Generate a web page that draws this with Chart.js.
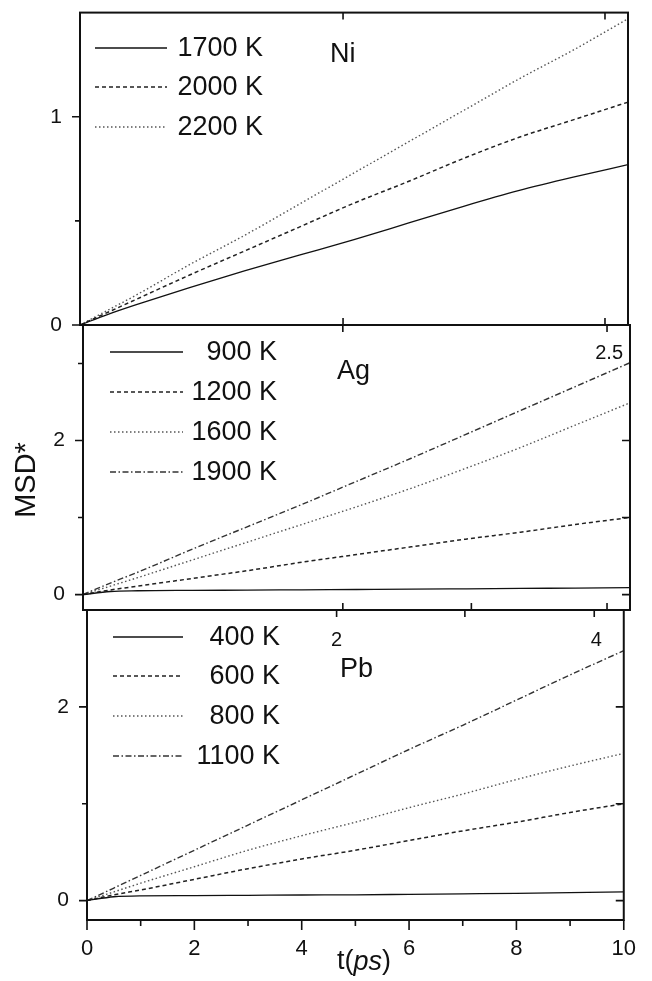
<!DOCTYPE html>
<html>
<head>
<meta charset="utf-8">
<script src="https://cdn.jsdelivr.net/npm/chart.js@4.4.0/dist/chart.umd.min.js"></script>
<style>
  html, body { margin: 0; padding: 0; background: #fff; }
  #wrap { position: relative; width: 652px; height: 981px; }
  #wrap canvas { position: absolute; left: 0; top: 0; }
</style>
</head>
<body>
<div id="wrap">
  <canvas id="niCanvas" width="652" height="981"></canvas>
  <canvas id="agCanvas" width="652" height="981"></canvas>
  <canvas id="pbCanvas" width="652" height="981"></canvas>
</div>
<script>
/********** DATA **********/
// time axis (ps), shared by every curve
const times = [0, 0.5, 1, 2, 3, 4, 5, 6, 7, 8, 9, 10];

// Ni
const ni1700 = [0, 0.05, 0.095, 0.18, 0.26, 0.335, 0.41, 0.49, 0.57, 0.645, 0.71, 0.77];
const ni2000 = [0, 0.06, 0.12, 0.24, 0.355, 0.47, 0.585, 0.69, 0.80, 0.90, 0.985, 1.07];
const ni2200 = [0, 0.07, 0.14, 0.29, 0.43, 0.58, 0.73, 0.88, 1.03, 1.18, 1.32, 1.47];

// Ag
const ag900  = [0, 0.04, 0.05, 0.055, 0.058, 0.062, 0.066, 0.07, 0.075, 0.08, 0.085, 0.09];
const ag1200 = [0, 0.06, 0.11, 0.21, 0.31, 0.42, 0.52, 0.62, 0.72, 0.81, 0.91, 1.0];
const ag1600 = [0, 0.11, 0.22, 0.45, 0.68, 0.91, 1.14, 1.38, 1.64, 1.91, 2.2, 2.49];
const ag1900 = [0, 0.15, 0.29, 0.59, 0.88, 1.17, 1.47, 1.77, 2.08, 2.39, 2.70, 3.01];

// Pb
const pb400  = [0, 0.04, 0.05, 0.052, 0.055, 0.058, 0.06, 0.065, 0.07, 0.075, 0.082, 0.09];
const pb600  = [0, 0.06, 0.11, 0.22, 0.33, 0.43, 0.52, 0.62, 0.72, 0.81, 0.91, 1.0];
const pb800  = [0, 0.09, 0.18, 0.35, 0.52, 0.67, 0.81, 0.96, 1.1, 1.25, 1.39, 1.52];
const pb1100 = [0, 0.13, 0.26, 0.52, 0.78, 1.04, 1.30, 1.56, 1.81, 2.07, 2.33, 2.58];

// tick labels
const xTickLabels = [0, 2, 4, 6, 8, 10];
const xMinorTicks = [1, 3, 5, 7, 9];

/********** STYLES **********/
const lineStyles = {
  solid:   { color: '#111', width: 1.3, dash: [] },
  dashed:  { color: '#222', width: 1.5, dash: [4, 3] },
  dotted:  { color: '#555', width: 1.4, dash: [1.5, 2.5] },
  dashdot: { color: '#333', width: 1.4, dash: [6, 2.5, 1.5, 2.5] }
};

const FONT = "'Liberation Sans', Arial, sans-serif";
Chart.defaults.font.family = FONT;
Chart.defaults.color = '#111';

/********** PANELS **********/
const panels = [
  {
    canvas: 'niCanvas', name: 'Ni',
    area: { left: 80, right: 628, top: 10, bottom: 325 },
    yMin: 0, yMax: 1.5, yMajor: [0, 1], yMinor: [0.5], yRight: [],
    topTicks: [4.8, 9.58], bottomInside: [4.8, 9.58], topLabels: [],
    labelPos: [330, 55],
    legend: { x1: 95, x2: 167, textX: 263, rows: [48, 87, 127] },
    series: [
      { label: '1700 K', values: ni1700, style: 'solid' },
      { label: '2000 K', values: ni2000, style: 'dashed' },
      { label: '2200 K', values: ni2200, style: 'dotted' }
    ]
  },
  {
    canvas: 'agCanvas', name: 'Ag',
    area: { left: 83, right: 630, top: 325, bottom: 610 },
    yMin: -0.2, yMax: 3.5, yMajor: [0, 2], yMinor: [1, 3], yRight: [0, 1, 2],
    topTicks: [4.75, 9.58], bottomInside: [4.75, 7.1, 9.58],
    topLabels: [{ text: '2.5', t: 9.58, y: 353, align: 'right', dx: 16 }],
    labelPos: [337, 372],
    legend: { x1: 110, x2: 183, textX: 277, rows: [352, 392, 432, 472] },
    series: [
      { label: '900 K', values: ag900, style: 'solid' },
      { label: '1200 K', values: ag1200, style: 'dashed' },
      { label: '1600 K', values: ag1600, style: 'dotted' },
      { label: '1900 K', values: ag1900, style: 'dashdot' }
    ]
  },
  {
    canvas: 'pbCanvas', name: 'Pb',
    area: { left: 87, right: 635, top: 610, bottom: 920 },
    yMin: -0.2, yMax: 3.0, yMajor: [0, 2], yMinor: [1], yRight: [0, 1, 2],
    topTicks: [4.65, 7.04, 9.45], bottomInside: [],
    topLabels: [
      { text: '2', t: 4.65, y: 640, align: 'center', dx: 0 },
      { text: '4', t: 9.45, y: 640, align: 'center', dx: 2 }
    ],
    labelPos: [340, 670],
    legend: { x1: 113, x2: 183, textX: 280, rows: [637, 676, 716, 756] },
    series: [
      { label: '400 K', values: pb400, style: 'solid' },
      { label: '600 K', values: pb600, style: 'dashed' },
      { label: '800 K', values: pb800, style: 'dotted' },
      { label: '1100 K', values: pb1100, style: 'dashdot' }
    ],
    bottomAxis: true
  }
];

/********** DECORATION PLUGIN (frame, ticks, legend, labels) **********/
function makeDeco(p) {
  return {
    id: 'deco' + p.name,
    afterDraw(chart) {
      const { ctx, chartArea: a } = chart;
      const x = chart.scales.x, y = chart.scales.y;
      ctx.save();

      // frame
      ctx.strokeStyle = '#111';
      ctx.lineWidth = 2;
      ctx.setLineDash([]);
      ctx.strokeRect(a.left, a.top, a.right - a.left, a.bottom - a.top);

      // ticks
      ctx.lineWidth = 1.6;
      ctx.beginPath();
      p.yMajor.forEach(v => { const py = y.getPixelForValue(v); ctx.moveTo(a.left - 8, py); ctx.lineTo(a.left, py); });
      p.yMinor.forEach(v => { const py = y.getPixelForValue(v); ctx.moveTo(a.left - 5, py); ctx.lineTo(a.left, py); });
      p.yRight.forEach(v => { const py = y.getPixelForValue(v); ctx.moveTo(a.right - 8, py); ctx.lineTo(a.right, py); });
      p.topTicks.forEach(t => { const px = x.getPixelForValue(t); ctx.moveTo(px, a.top); ctx.lineTo(px, a.top + 7); });
      p.bottomInside.forEach(t => { const px = x.getPixelForValue(t); ctx.moveTo(px, a.bottom); ctx.lineTo(px, a.bottom - 7); });
      if (p.bottomAxis) {
        xTickLabels.forEach(t => { const px = x.getPixelForValue(t); ctx.moveTo(px, a.bottom); ctx.lineTo(px, a.bottom + 10); });
        xMinorTicks.forEach(t => { const px = x.getPixelForValue(t); ctx.moveTo(px, a.bottom); ctx.lineTo(px, a.bottom + 6); });
      }
      ctx.stroke();

      // legend
      const lg = p.legend;
      ctx.font = '27px ' + FONT;
      ctx.textBaseline = 'middle';
      ctx.textAlign = 'right';
      p.series.forEach((s, i) => {
        const st = lineStyles[s.style];
        const ry = lg.rows[i];
        ctx.strokeStyle = st.color;
        ctx.lineWidth = st.width;
        ctx.setLineDash(st.dash);
        ctx.beginPath();
        ctx.moveTo(lg.x1, ry);
        ctx.lineTo(lg.x2, ry);
        ctx.stroke();
        ctx.fillStyle = '#111';
        ctx.fillText(s.label, lg.textX, ry + 1);
      });
      ctx.setLineDash([]);

      // element label
      ctx.textAlign = 'left';
      ctx.fillText(p.name, p.labelPos[0], p.labelPos[1]);

      // top axis labels
      ctx.font = '20px ' + FONT;
      p.topLabels.forEach(l => {
        ctx.textAlign = l.align;
        ctx.fillText(l.text, x.getPixelForValue(l.t) + l.dx, l.y);
      });

      // axis titles (drawn once, on the bottom panel)
      if (p.bottomAxis) {
        ctx.save();
        ctx.font = '29px ' + FONT;
        ctx.textAlign = 'center';
        ctx.translate(27, 480);
        ctx.rotate(-Math.PI / 2);
        ctx.fillText('MSD*', 0, 0);
        ctx.restore();

        ctx.textAlign = 'left';
        let tx = 337;
        const ty = 962;
        const parts = [['t(', ''], ['ps', 'italic '], [')', '']];
        parts.forEach(([txt, style]) => {
          ctx.font = style + '27px ' + FONT;
          ctx.fillText(txt, tx, ty);
          tx += ctx.measureText(txt).width;
        });
      }
      ctx.restore();
    }
  };
}

/********** CHART.JS SETUP **********/
const Y_AXIS_W = 40;
const X_AXIS_H = 40;

panels.forEach(p => {
  const datasets = p.series.map(s => {
    const st = lineStyles[s.style];
    return {
      label: s.label,
      data: times.map((t, i) => ({ x: t, y: s.values[i] })),
      borderColor: st.color,
      borderWidth: st.width,
      borderDash: st.dash,
      pointRadius: 0,
      fill: false,
      cubicInterpolationMode: 'monotone'
    };
  });

  const padBottom = p.bottomAxis ? 981 - p.area.bottom - X_AXIS_H : 981 - p.area.bottom;

  new Chart(document.getElementById(p.canvas).getContext('2d'), {
    type: 'line',
    data: { datasets: datasets },
    options: {
      responsive: false,
      animation: false,
      events: [],
      layout: {
        padding: {
          left: p.area.left - Y_AXIS_W,
          right: 652 - p.area.right,
          top: p.area.top,
          bottom: padBottom
        }
      },
      plugins: { legend: { display: false }, tooltip: { enabled: false } },
      scales: {
        x: {
          type: 'linear',
          min: 0, max: 10,
          display: !!p.bottomAxis,
          grid: { display: false, drawTicks: false },
          border: { display: false },
          afterBuildTicks: axis => { axis.ticks = xTickLabels.map(v => ({ value: v })); },
          afterFit: axis => { if (p.bottomAxis) axis.height = X_AXIS_H; },
          ticks: { font: { size: 22 }, padding: 16, color: '#111', maxRotation: 0, autoSkip: false }
        },
        y: {
          type: 'linear',
          min: p.yMin, max: p.yMax,
          grid: { display: false, drawTicks: true, tickLength: 18 },
          border: { display: false },
          afterBuildTicks: axis => { axis.ticks = p.yMajor.map(v => ({ value: v })); },
          afterFit: axis => { axis.width = Y_AXIS_W; },
          ticks: { font: { size: 21 }, padding: 0, color: '#111', autoSkip: false }
        }
      }
    },
    plugins: [makeDeco(p)]
  });
});
</script>
</body>
</html>
